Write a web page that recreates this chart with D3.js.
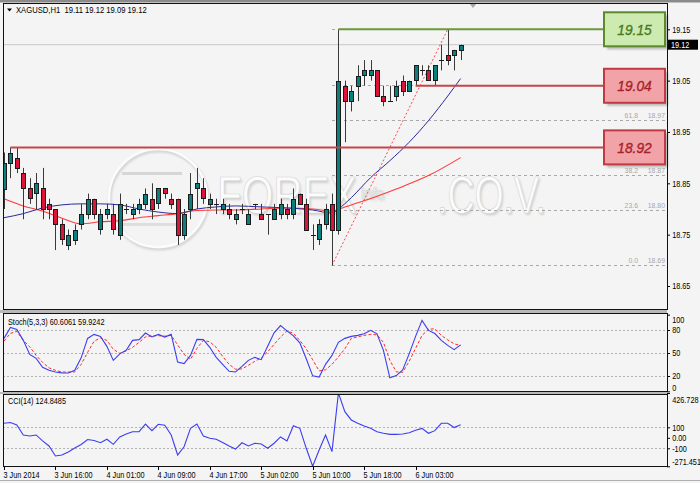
<!DOCTYPE html>
<html><head><meta charset="utf-8">
<script src="https://cdn.jsdelivr.net/npm/d3@7/dist/d3.min.js"></script>
<style>
html,body{margin:0;padding:0;background:#f4f4f4;overflow:hidden}
svg{display:block}
text{font-family:"Liberation Sans",Arial,sans-serif;white-space:pre}
</style></head><body>
<svg id="chart" width="700" height="483"></svg>
<script>
// ================= DATA =================
const symbolTitle = "XAGUSD,H1";
const lastBarText = "19.11 19.12 19.09 19.12";
const opens  = [18.84,18.89,18.90,18.87,18.84,18.83,18.84,18.81,18.80,18.77,18.73,18.74,18.77,18.79,18.82,18.76,18.79,18.79,18.75,18.80,
                18.79,18.80,18.81,18.82,18.81,18.84,18.82,18.82,18.75,18.80,18.84,18.84,18.81,18.81,18.80,18.80,18.78,18.80,18.77,18.81,
                18.79,18.79,18.78,18.79,18.80,18.79,18.83,18.81,18.75,18.74,18.77,18.81,18.76,19.04,19.01,19.04,19.06,19.06,19.07,19.02,
                19.01,19.02,19.05,19.03,19.05,19.07,19.07,19.05,19.09,19.10,19.10,19.11];
const highs  = [18.91,18.92,18.92,18.88,18.86,18.87,18.88,18.82,18.80,18.78,18.76,18.77,18.81,18.83,18.82,18.80,18.81,18.81,18.83,18.81,
                18.81,18.82,18.84,18.85,18.84,18.84,18.83,18.82,18.80,18.87,18.88,18.86,18.83,18.82,18.82,18.81,18.80,18.81,18.80,18.81,
                18.81,18.79,18.81,18.82,18.81,18.84,18.83,18.82,18.77,18.78,18.81,18.83,19.15,19.05,19.04,19.08,19.09,19.09,19.07,19.04,
                19.04,19.05,19.06,19.05,19.08,19.08,19.08,19.08,19.12,19.15,19.11,19.12];
const lows   = [18.80,18.86,18.87,18.78,18.81,18.80,18.78,18.78,18.72,18.73,18.72,18.73,18.76,18.78,18.78,18.75,18.78,18.75,18.74,18.79,
                18.78,18.79,18.80,18.78,18.80,18.82,18.80,18.73,18.74,18.78,18.80,18.81,18.80,18.79,18.79,18.78,18.77,18.79,18.77,18.80,
                18.78,18.75,18.78,18.78,18.78,18.78,18.81,18.76,18.72,18.73,18.76,18.69,18.75,18.93,18.99,19.01,19.04,19.05,19.02,19.00,
                19.01,19.01,19.02,19.03,19.04,19.06,19.05,19.04,19.07,19.08,19.07,19.09];
const closes = [18.89,18.91,18.88,18.84,18.82,18.85,18.80,18.80,18.77,18.74,18.75,18.76,18.79,18.82,18.79,18.79,18.80,18.76,18.81,18.80,
                18.80,18.81,18.83,18.80,18.84,18.83,18.81,18.75,18.79,18.83,18.85,18.82,18.82,18.81,18.81,18.79,18.79,18.80,18.79,18.81,
                18.78,18.79,18.80,18.81,18.79,18.82,18.81,18.76,18.75,18.77,18.80,18.76,19.05,19.01,19.03,19.06,19.07,19.07,19.02,19.01,
                19.01,19.04,19.03,19.05,19.08,19.07,19.05,19.08,19.09,19.09,19.11,19.12];
// moving averages read at bar indices
const maFastIdx = [0,3,6,9,12,15,18,21,24,27,30,33,36,40,44,48,51,52,54,57,60,63,66,69,71];
const maFastVal = [18.783,18.791,18.802,18.808,18.810,18.810,18.808,18.800,18.794,18.791,18.800,18.804,18.806,18.804,18.802,18.798,18.792,18.800,18.822,18.861,18.894,18.930,18.972,19.020,19.054];
const maSlowIdx = [0,3,6,9,12,15,18,21,24,27,30,33,36,40,44,48,51,53,56,61,66,71];
const maSlowVal = [18.820,18.806,18.796,18.782,18.771,18.775,18.777,18.783,18.787,18.791,18.797,18.798,18.798,18.800,18.802,18.800,18.796,18.804,18.816,18.839,18.865,18.900];
const stochMain = [69.1,83.4,80.8,66.5,48.2,43,31.3,27.4,25.2,24.1,23.9,27.4,43.7,69,74.3,71.7,58.7,40.4,48.9,53.5,
                   66.5,67.4,76,71,74.3,70.8,74.3,38.2,36.1,46.9,67.8,67.4,57.4,44.3,35.2,26.1,25.2,32.6,40.4,44.3,
                   41.3,58.7,76.3,85.7,78.9,72.4,63.2,42.4,20.2,18.6,35.2,46.9,63.9,69.1,71.7,73,75.2,79.5,75,53.5,
                   17.6,20.6,28,48.9,71.7,92.6,79.5,75.4,66.5,60,54.4,60.6061];
const stochSignal = [65.6,75.6,78.2,66.5,58,46.9,37.8,30.6,27.4,25.2,25.2,25.2,35.2,50.8,65.2,69.8,66.5,54.8,49.5,52.8,
                     57.4,63.9,71,72.4,72.6,72,73,60.6,48.2,41.7,56.1,66.5,64.5,57.4,45.6,35.2,28.9,29.3,33.9,39.1,
                     43.7,51.5,61.3,70.8,78.9,75.6,66.5,55.4,41.1,26.7,28,35.2,45,55.4,69.1,71,73,74.3,73.7,63.9,
                     40.4,25.4,24.8,39.1,56.1,73,80.8,81.7,73,67.1,61.9,59.9242];
const cciValues = [138,146,122,27,17,27,-30,-78,-173,-164,-135,-97,-64,-16,-26,-47,-14,-62,8,36,
                   58,58,131,68,129,119,27,-164,-85,90,131,17,-5,-14,-45,-78,-107,-47,-78,-52,
                   -59,-100,-52,8,-30,115,90,-100,-271.451,-116,27,-132,426.728,249,170,138,112,90,58,43,
                   33,33,36,48,71,90,43,68,138,138,98,124.8485];
const timeLabels = ["3 Jun 2014","3 Jun 16:00","4 Jun 01:00","4 Jun 09:00","4 Jun 17:00","5 Jun 02:00","5 Jun 10:00","5 Jun 18:00","6 Jun 03:00"];
const timeLabelIdx = [0,8,16,24,32,40,48,56,64];
const priceTicks = [19.15,19.05,18.95,18.85,18.75,18.65];
const stochTicks = [100,80,50,20,0];
const stochLevels = [20,50,80];
const cciTicks = [426.728,100,0,-100,-271.451];
const cciTickText = ["426.728","100","0.00","-100","-271.451"];
const cciLevels = [100,-100];
const levelPrices = [19.15,19.04,18.92];
const levelLabels = ["19.15","19.04","18.92"];
const levelStartIdx = [52,64,1];
const levelKinds = ["green","red","red"];
const fibLowIdx = 51, fibHighIdx = 69, fibLow = 18.69, fibHigh = 19.15;
const fibRatios = [0,23.6,38.2,50,61.8,76.4,100];
const fibLabelled = [0,23.6,38.2,61.8];   // the others sit under the level boxes
const currentPrice = 19.12;

// ================= LAYOUT =================
const svg = d3.select('#chart');
const plotL = 3, plotR = 667;
const mainT = 3, mainB = 310, stT = 313, stB = 392, ccT = 394, ccB = 467;
const SX = 0.86;
const n = closes.length;
const x = d3.scaleLinear().domain([0, 71]).range([4, 460.6]);
const y = d3.scaleLinear().domain([18.65, 19.15]).range([286, 29.3]);
const yS = d3.scaleLinear().domain([20, 80]).range([376, 330]);
const yC = d3.scaleLinear().domain([-100, 100]).range([448.3, 427.3]);

const defs = svg.append('defs');
defs.append('filter').attr('id','blur').attr('x','-20%').attr('y','-50%').attr('width','140%').attr('height','200%')
  .append('feGaussianBlur').attr('stdDeviation',1.3);
[['cm',mainT,mainB],['cs',stT,stB],['cc',ccT,ccB]].forEach(([id,t,b])=>{
  defs.append('clipPath').attr('id',id).append('rect').attr('x',plotL).attr('y',t).attr('width',plotR-plotL).attr('height',b-t);
});

function label(parent, px, py, s, size, fill, anchor, sx){
  return parent.append('text')
    .attr('transform',`translate(${px},${py}) scale(${sx||SX},1)`)
    .attr('font-size',size).attr('fill',fill).attr('text-anchor',anchor||'start').text(s);
}

// frame
svg.append('rect').attr('x',0).attr('y',0).attr('width',700).attr('height',483).attr('fill','#f4f4f4');
svg.append('rect').attr('x',0).attr('y',0).attr('width',700).attr('height',2.5).attr('fill','#8a8a8a');
svg.append('rect').attr('x',0).attr('y',mainB).attr('width',plotR).attr('height',stT-mainB).attr('fill','#b8b8b8');
svg.append('rect').attr('x',0).attr('y',stB).attr('width',plotR).attr('height',ccT-stB).attr('fill','#b8b8b8');
svg.append('line').attr('x1',0).attr('x2',700).attr('y1',480.5).attr('y2',480.5).attr('stroke','#b0b0b0');

// ================= MAIN PANEL =================
const gm = svg.append('g').attr('clip-path','url(#cm)');

// watermark
const wm = gm.append('g');
wm.append('circle').attr('cx',159).attr('cy',200).attr('r',49).attr('fill','none').attr('stroke','#d2d2d2').attr('stroke-width',3).attr('filter','url(#blur)');
wm.append('circle').attr('cx',158).attr('cy',198).attr('r',49).attr('fill','none').attr('stroke','#fcfcfc').attr('stroke-width',2.5);
wm.append('rect').attr('x',122).attr('y',172).attr('width',60).attr('height',3).attr('fill','#d6d6d6');
wm.append('rect').attr('x',122).attr('y',223).attr('width',60).attr('height',3).attr('fill','#dedede');
const wmText = [[217,213,"FOREX",52,0.78],[361,199,"info",16,0.9],[437,213,".CO.V.",52,0.72]];
wmText.forEach(([tx,ty,s,fs,sx])=>{
  label(wm,tx+1.5,ty+1.5,s,fs,'#d0d0d0','start',sx).attr('filter','url(#blur)');
  label(wm,tx,ty,s,fs,'#fcfcfc','start',sx).attr('stroke','#d4d4d4').attr('stroke-width',0.7);
});

// bid line
gm.append('line').attr('x1',plotL).attr('x2',plotR).attr('y1',y(currentPrice)).attr('y2',y(currentPrice)).attr('stroke','#c8c8c8');

// fibonacci levels
const fibG = gm.append('g');
fibRatios.forEach(r=>{
  const p = fibLow + (fibHigh-fibLow)*r/100;
  const yy = Math.round(y(p))+0.5;
  fibG.append('line').attr('x1',x(fibLowIdx)).attr('x2',plotR).attr('y1',yy).attr('y2',yy)
    .attr('stroke','#a8a8a8').attr('stroke-dasharray','3,3');
  if (fibLabelled.includes(r)) {
    label(fibG,638,yy-2.5,r.toFixed(1),8,'#a8a8a8','end');
    label(fibG,665,yy-2.5,p.toFixed(2),8,'#a8a8a8','end');
  }
});
fibG.append('line').attr('x1',x(fibLowIdx)).attr('y1',y(fibLow)).attr('x2',x(fibHighIdx)).attr('y2',y(fibHigh))
  .attr('stroke','#ff4a4a').attr('stroke-dasharray','2,2');

// moving averages
const lineGen = d3.line().x(d=>x(d[0])).y(d=>y(d[1])).curve(d3.curveMonotoneX);
gm.append('path').datum(maSlowIdx.map((d,i)=>[d,maSlowVal[i]])).attr('d',lineGen).attr('fill','none').attr('stroke','#ff3a3a').attr('stroke-width',1.1);
gm.append('path').datum(maFastIdx.map((d,i)=>[d,maFastVal[i]])).attr('d',lineGen).attr('fill','none').attr('stroke','#2a2a9a').attr('stroke-width',1);

// candles
const bars = d3.range(n).map(i=>({i,o:opens[i],h:highs[i],l:lows[i],c:closes[i]}));
const cg = gm.append('g');
cg.selectAll('line.w').data(bars).join('line').attr('class','w')
  .attr('x1',d=>Math.round(x(d.i))+0.5).attr('x2',d=>Math.round(x(d.i))+0.5)
  .attr('y1',d=>y(d.h)).attr('y2',d=>y(d.l)).attr('stroke','#3a3a3a').attr('stroke-width',1);
cg.selectAll('rect.b').data(bars.filter(d=>d.o!==d.c)).join('rect').attr('class','b')
  .attr('x',d=>Math.round(x(d.i))-1.5).attr('width',4)
  .attr('y',d=>Math.round(y(Math.max(d.o,d.c)))+0.5)
  .attr('height',d=>Math.max(1,Math.round(Math.abs(y(d.o)-y(d.c)))))
  .attr('fill',d=>d.c>d.o?'#0b7f7c':'#dc143c').attr('stroke','#1a1a1a').attr('stroke-width',1);
cg.selectAll('line.d').data(bars.filter(d=>d.o===d.c)).join('line').attr('class','d')
  .attr('x1',d=>Math.round(x(d.i))-2).attr('x2',d=>Math.round(x(d.i))+3)
  .attr('y1',d=>Math.round(y(d.o))+0.5).attr('y2',d=>Math.round(y(d.o))+0.5).attr('stroke','#1a1a1a');

// horizontal level lines with boxes
const palette = {
  green:{line:'#6a9a3c',fill:'#cdeab0',stroke:'#5b8a2c',text:'#4a7a1e'},
  red:{line:'#c4464d',fill:'#f2a3a7',stroke:'#c03a43',text:'#a81e2a'}
};
const lv = svg.append('g');
levelPrices.forEach((p,k)=>{
  const c = palette[levelKinds[k]];
  const yy = y(p), x0 = x(levelStartIdx[k]);
  lv.append('line').attr('x1',x0).attr('x2',604).attr('y1',yy+3).attr('y2',yy+3).attr('stroke','#9a9a9a').attr('stroke-width',3).attr('opacity',0.55).attr('filter','url(#blur)');
  lv.append('line').attr('x1',x0).attr('x2',604).attr('y1',yy).attr('y2',yy).attr('stroke',c.line).attr('stroke-width',2);
  lv.append('rect').attr('x',607).attr('y',yy-14).attr('width',61).attr('height',34).attr('fill','#8a8a8a').attr('opacity',0.55).attr('filter','url(#blur)');
  lv.append('rect').attr('x',604).attr('y',yy-17).attr('width',61).attr('height',34).attr('fill',c.fill).attr('stroke',c.stroke).attr('stroke-width',2);
  label(lv,634.5,yy+5.5,levelLabels[k],15,c.text,'middle',0.92).attr('font-style','italic').attr('stroke',c.text).attr('stroke-width',0.35);
});

// header
svg.append('path').attr('d','M7,8.5 L12,8.5 L9.5,11.5 Z').attr('fill','#000');
label(svg,16,13,symbolTitle+"  "+lastBarText,8.5,'#000','start',0.9);
svg.append('path').attr('d','M469,3 L477,3 L473,8 Z').attr('fill','#a8a8a8');

// price axis
const axMain = svg.append('g').attr('transform',`translate(${plotR},0)`)
  .call(d3.axisRight(y).tickValues(priceTicks).tickSize(3).tickPadding(3).tickFormat(d3.format('.2f')));
axMain.select('.domain').remove();
axMain.selectAll('line').attr('stroke','#000');
axMain.selectAll('text').attr('font-size',8.5).attr('fill','#000').attr('transform',`scale(${SX},1)`).attr('font-family','"Liberation Sans",Arial,sans-serif');
// current price tag
svg.append('rect').attr('x',668).attr('y',y(currentPrice)-5).attr('width',30).attr('height',10).attr('fill','#000');
label(svg,671,y(currentPrice)+3.5,currentPrice.toFixed(2),8.5,'#fff');

// ================= STOCHASTIC =================
const gs = svg.append('g').attr('clip-path','url(#cs)');
stochLevels.forEach(v=>{
  gs.append('line').attr('x1',plotL).attr('x2',plotR).attr('y1',Math.round(yS(v))+0.5).attr('y2',Math.round(yS(v))+0.5)
    .attr('stroke','#b4b4b4').attr('stroke-dasharray','2,2');
});
const sLine = d3.line().x((d,i)=>x(i)).y(d=>yS(d));
gs.append('path').datum(stochSignal).attr('d',sLine).attr('fill','none').attr('stroke','#ff2a2a').attr('stroke-dasharray','3,2').attr('stroke-width',1);
gs.append('path').datum(stochMain).attr('d',sLine).attr('fill','none').attr('stroke','#3d3df0').attr('stroke-width',1.1);
label(svg,8,325,"Stoch(5,3,3) "+stochMain[n-1].toFixed(4)+" "+stochSignal[n-1].toFixed(4),8.5,'#000');
const axS = svg.append('g').attr('transform',`translate(${plotR},0)`)
  .call(d3.axisRight(yS).tickValues(stochTicks).tickSize(3).tickPadding(3).tickFormat(d3.format('d')));
axS.select('.domain').remove();
axS.selectAll('line').attr('stroke','#000');
axS.selectAll('text').attr('font-size',8.5).attr('fill','#000').attr('transform',`scale(${SX},1)`).attr('font-family','"Liberation Sans",Arial,sans-serif')
  .attr('y',d=>d===100?5:(d===0?-4:0));

// ================= CCI =================
const gc = svg.append('g').attr('clip-path','url(#cc)');
cciLevels.forEach(v=>{
  gc.append('line').attr('x1',plotL).attr('x2',plotR).attr('y1',Math.round(yC(v))+0.5).attr('y2',Math.round(yC(v))+0.5)
    .attr('stroke','#b4b4b4').attr('stroke-dasharray','2,2');
});
const cLine = d3.line().x((d,i)=>x(i)).y(d=>yC(d));
gc.append('path').datum(cciValues).attr('d',cLine).attr('fill','none').attr('stroke','#3d3df0').attr('stroke-width',1.1);
label(svg,8,404,"CCI(14) "+cciValues[n-1].toFixed(4),8.5,'#000');
const axC = svg.append('g').attr('transform',`translate(${plotR},0)`)
  .call(d3.axisRight(yC).tickValues(cciTicks).tickSize(3).tickPadding(3).tickFormat((d,i)=>cciTickText[i]));
axC.select('.domain').remove();
axC.selectAll('line').attr('stroke','#000');
axC.selectAll('text').attr('font-size',8.5).attr('fill','#000').attr('transform',`scale(${SX},1)`).attr('font-family','"Liberation Sans",Arial,sans-serif')
  .attr('y',(d,i)=>i===0?7:(i===cciTicks.length-1?-4.5:0));

// ================= PANEL BORDERS =================
[[mainT,mainB],[stT,stB],[ccT,ccB]].forEach(([t,b])=>{
  svg.append('rect').attr('x',plotL+0.5).attr('y',t+0.5).attr('width',plotR-plotL).attr('height',b-t-1)
    .attr('fill','none').attr('stroke','#111').attr('stroke-width',1);
});

// time axis
const ta = svg.append('g');
timeLabelIdx.forEach((idx,k)=>{
  const px = Math.round(x(idx))+0.5;
  ta.append('line').attr('x1',px).attr('x2',px).attr('y1',ccB).attr('y2',ccB+3).attr('stroke','#000');
  label(ta,px-1,477.5,timeLabels[k],8.5,'#000');
});
</script></body></html>
